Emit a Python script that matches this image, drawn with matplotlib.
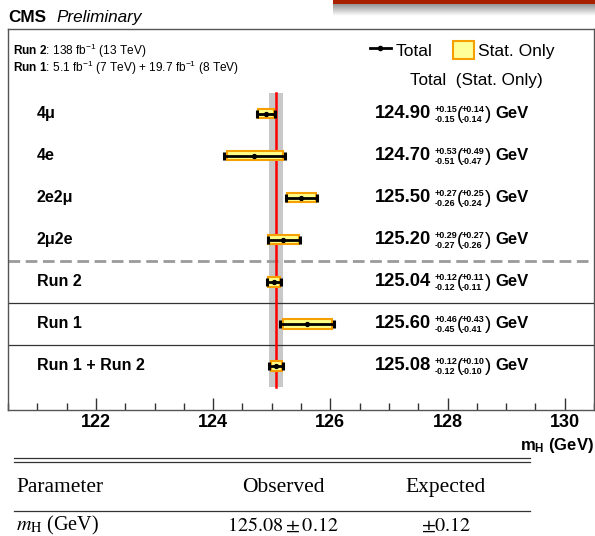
import numpy as np
import matplotlib
matplotlib.use('Agg')
import matplotlib.pyplot as plt
from matplotlib.lines import Line2D
from matplotlib.patches import Patch, Rectangle
from matplotlib.ticker import MultipleLocator
from matplotlib.transforms import offset_copy

plt.rcParams['font.family'] = ['Liberation Sans', 'DejaVu Sans']
plt.rcParams['mathtext.fontset'] = 'custom'
plt.rcParams['mathtext.rm'] = 'Liberation Sans'
plt.rcParams['mathtext.bf'] = 'Liberation Sans:bold'
plt.rcParams['mathtext.it'] = 'Liberation Sans:italic'
plt.rcParams['mathtext.sf'] = 'Liberation Sans'

# ---------------- data ----------------
categories = ["4μ", "4e", "2e2μ", "2μ2e", "Run 2", "Run 1", "Run 1 + Run 2"]
mass = [124.90, 124.70, 125.50, 125.20, 125.04, 125.60, 125.08]
tot_up = [0.15, 0.53, 0.27, 0.29, 0.12, 0.46, 0.12]
tot_dn = [0.15, 0.51, 0.26, 0.27, 0.12, 0.45, 0.12]
stat_up = [0.14, 0.49, 0.25, 0.27, 0.11, 0.43, 0.10]
stat_dn = [0.14, 0.47, 0.24, 0.26, 0.11, 0.41, 0.10]
comb_mass = 125.08
comb_err = 0.12
xticks = [122, 124, 126, 128, 130]

table_header = ["Parameter", "Observed", "Expected"]
table_row = [r"$m_{\mathrm{H}}$ (GeV)", r"$125.08 \pm 0.12$", r"$\pm 0.12$"]

# ---------------- figure ----------------
W, H = 595, 536
fig = plt.figure(figsize=(W / 100, H / 100), dpi=100)


def fx(px):
    return px / W


def fy(py):
    return 1 - py / H


ax = fig.add_axes([fx(8), fy(410), fx(594) - fx(8), fy(29) - fy(410)])
ax.set_xlim(120.5, 130.5)
ax.set_ylim(7.05, -2.02)

n = len(categories)
y = np.arange(n)
mass_a = np.array(mass)

# combined band and line
ax.fill_betweenx([-0.5, n - 0.5], comb_mass - comb_err, comb_mass + comb_err,
                 color='#c8c8c8', lw=0, zorder=1)
ax.plot([comb_mass, comb_mass], [-0.5, n - 0.5], color='#ff0000', lw=1.8, zorder=2)

# separators
ax.axhline(3.5, color='#9a9a9a', lw=2, dashes=(4.2, 2.0), zorder=1)
ax.axhline(4.5, color='#333333', lw=0.9, zorder=1)
ax.axhline(5.5, color='#333333', lw=0.9, zorder=1)

# stat boxes
ax.barh(y, np.array(stat_up) + np.array(stat_dn), left=mass_a - np.array(stat_dn),
        height=0.22, color='#ffff88', edgecolor='#f5a000', lw=1.5, zorder=3)
# total error bars
ax.errorbar(mass_a, y, xerr=[tot_dn, tot_up], fmt='o', ms=2.8, color='k',
            elinewidth=2, capsize=3.2, capthick=2.2, zorder=4)

# row labels and values
tr = ax.get_yaxis_transform()
x0 = (375 - 8) / (594 - 8)


def piece(i, dx, dy, s, **kw):
    t = offset_copy(tr, fig=fig, x=dx, y=-dy, units='dots')
    ax.text(x0, y[i], s, transform=t, va='center', ha='left', **kw)


for i in range(n):
    ax.text(0.049, y[i], categories[i], transform=tr, fontsize=11.5,
            fontweight='bold', va='center', ha='left')
    piece(i, 0, 0, "%.2f" % mass[i], fontsize=13.2, fontweight='bold')
    piece(i, 60, -4.5, "+%.2f" % tot_up[i], fontsize=6.5, fontweight='bold')
    piece(i, 60, 5.5, "-%.2f" % tot_dn[i], fontsize=6.5, fontweight='bold')
    piece(i, 82, 0.5, "(", fontsize=13.5)
    piece(i, 87, -4.5, "+%.2f" % stat_up[i], fontsize=6.5, fontweight='bold')
    piece(i, 87, 5.5, "-%.2f" % stat_dn[i], fontsize=6.5, fontweight='bold')
    piece(i, 110, 0.5, ")", fontsize=13.5)
    piece(i, 120, 0, "GeV", fontsize=12, fontweight='bold')

ax.text(0.686, -0.79, "Total  (Stat. Only)", transform=tr, fontsize=12.3,
        va='center', ha='left')

# axes styling
ax.set_yticks([])
ax.set_xticks(xticks)
ax.xaxis.set_minor_locator(MultipleLocator(0.5))
ax.tick_params(axis='x', which='major', direction='in', length=9, width=1,
               labelsize=13, pad=3, color='#333333')
ax.tick_params(axis='x', which='minor', direction='in', length=5, width=1,
               color='#333333')
for lbl in ax.get_xticklabels():
    lbl.set_fontweight('bold')
for sp in ax.spines.values():
    sp.set_color('#555555')
    sp.set_linewidth(1)
ax.text(1.0, -0.092, r"$\mathbf{m_H}$ (GeV)", transform=ax.transAxes, fontsize=12,
        fontweight='bold', ha='right', va='center')

# header texts
fig.text(fx(8), fy(17.5), "CMS", fontsize=12.3, fontweight='bold', va='center')
fig.text(fx(56), fy(17.5), "Preliminary", fontsize=12.3, style='italic', va='center')
fig.text(fx(13), fy(50.5), r"$\mathbf{Run\ 2}$: 138 fb$^{-1}$ (13 TeV)", fontsize=8.6,
         va='center')
fig.text(fx(13), fy(67.5), r"$\mathbf{Run\ 1}$: 5.1 fb$^{-1}$ (7 TeV) + 19.7 fb$^{-1}$ (8 TeV)",
         fontsize=8.6, va='center')

# legend
handles = [Line2D([], [], color='k', lw=2, marker='o', ms=3),
           Patch(facecolor='#ffff99', edgecolor='#f5a000', lw=1.5)]
fig.legend(handles, ["Total", "Stat. Only"], loc='center left',
           bbox_to_anchor=(fx(370), fy(50)), ncol=2, frameon=False, fontsize=12.5,
           handlelength=1.2, handleheight=1.3, handletextpad=0.25,
           columnspacing=1.2, borderpad=0, borderaxespad=0)

# top-right decorative bar with shadow
sh = fig.add_axes([fx(333), fy(16), 1 - fx(333), fy(3) - fy(16)])
grad = np.linspace(0.55, 1.0, 50)[:, None] * np.ones((1, 10))
sh.imshow(grad, cmap='gray', vmin=0, vmax=1, aspect='auto', interpolation='bilinear')
sh.axis('off')
fig.patches.append(Rectangle((fx(333), fy(4)), 1 - fx(333), fy(0) - fy(4) + 0.01,
                             transform=fig.transFigure, facecolor='#a82000',
                             edgecolor='none'))

# table
serif = ['Liberation Serif', 'DejaVu Serif']
for yy in (457.5, 461.5):
    fig.add_artist(Line2D([fx(14), fx(530)], [fy(yy), fy(yy)], color='#333333', lw=0.9))
fig.add_artist(Line2D([fx(14), fx(530)], [fy(511), fy(511)], color='#333333', lw=0.9))
tx = [fx(16), fx(283), fx(446)]
has = ['left', 'center', 'center']
for j in range(3):
    fig.text(tx[j], fy(492), table_header[j], fontsize=15.5, family=serif,
             ha=has[j], va='baseline')
    fig.text(tx[j], fy(530.5), table_row[j], fontsize=14.5, family=serif,
             ha=has[j], va='baseline', math_fontfamily='stix')

fig.savefig('out.png', dpi=100)
